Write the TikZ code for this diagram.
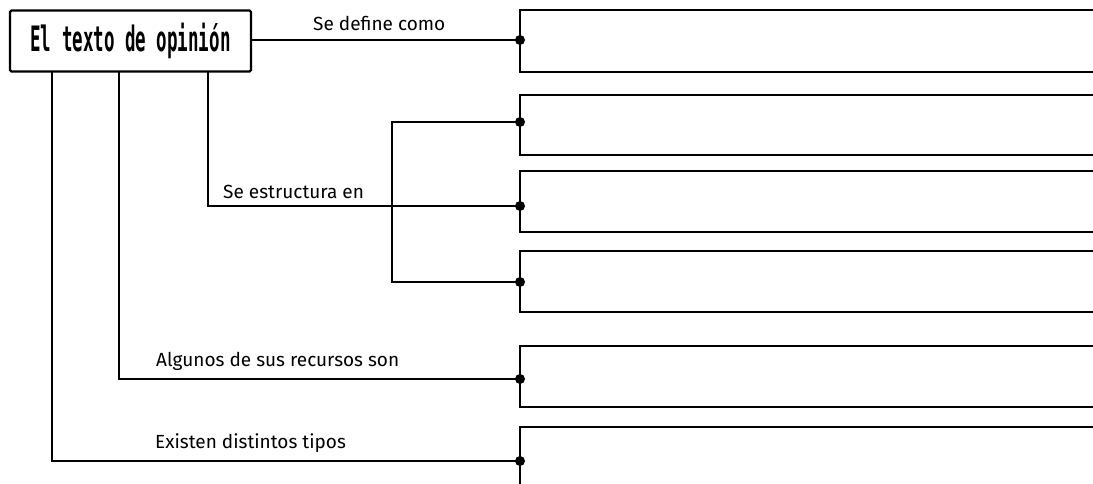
\documentclass[tikz,border=0pt]{standalone}
\usepackage{fontspec}
\setmainfont{Fira Sans}
\newfontfamily\titlefont{DejaVu Sans Mono}
\begin{document}
\begin{tikzpicture}[x=1pt,y=-1pt,
  conn/.style={line width=2.6pt,line cap=rect},
  bx/.style={line width=2.4pt},
  dot/.style={circle,fill=black,inner sep=0pt,minimum size=10pt},
  lbl/.style={anchor=base west,inner sep=0pt,font=\fontsize{19}{22}\selectfont}]
\useasboundingbox (0,0) rectangle (1093,484);
% title
\node[draw,line width=2.4pt,rounded corners=1.5pt,minimum width=241pt,minimum height=61pt,inner sep=0pt] (title) at (130.5,41)
  {\raisebox{-1pt}{\titlefont\bfseries\fontsize{35}{38}\selectfont\scalebox{0.5}[1]{El texto de opinión}}};
% boxes (open on right)
\foreach \t/\b [count=\i] in {10/72,95/155,171/232,251/312,346/407} {
  \draw[bx] (1100,\t) -- (520,\t) -- (520,\b) -- (1100,\b);
}
\draw[bx] (1100,427) -- (520,427) -- (520,490);
% anchor points
\coordinate (d1) at (520,40);
\coordinate (d2) at (520,122);
\coordinate (d3) at (520,206);
\coordinate (d4) at (520,282);
\coordinate (d5) at (520,379);
\coordinate (d6) at (520,461);
\foreach \i in {1,...,6} \node[dot] (n\i) at (d\i) {};
% connectors
\draw[conn] (title.east |- d1) -- (n1.center);
\coordinate (c3) at (208,72);
\coordinate (c2) at (119,72);
\coordinate (c1) at (52,72);
\draw[conn] (c3) |- (n3.center);
\coordinate (br) at (392,206);
\draw[conn] (n2.center) -| (br) |- (n4.center);
\draw[conn] (c2) |- (n5.center);
\draw[conn] (c1) |- (n6.center);
% labels
\node[lbl] (l1) at (313,31) {Se define como};
\node[lbl] (l2) at (223,199) {Se estructura en};
\node[lbl] (l3) at (156,366) {Algunos de sus recursos son};
\node[lbl] (l4) at (155,448) {Existen distintos tipos};
\end{tikzpicture}
\end{document}
